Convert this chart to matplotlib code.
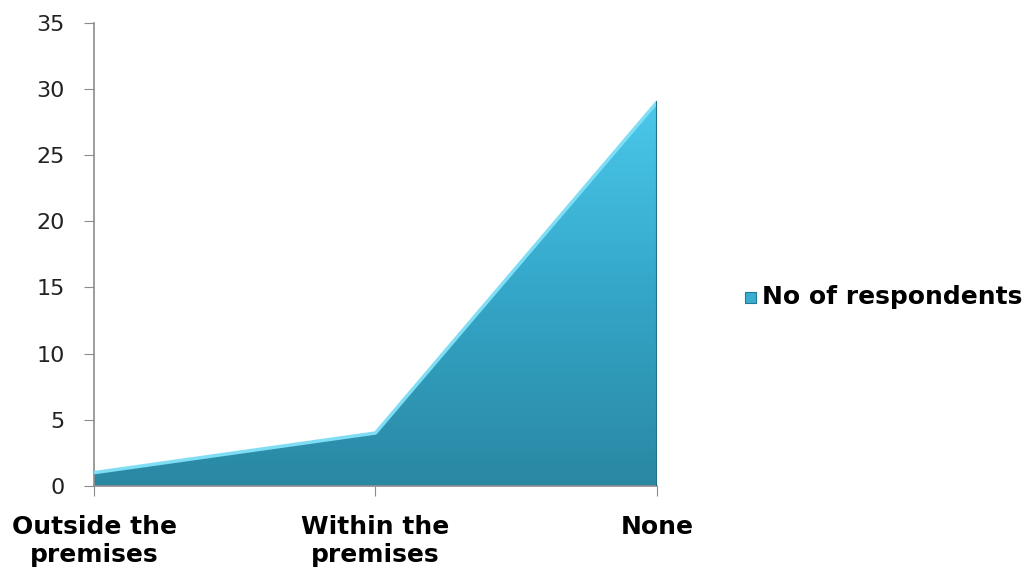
import numpy as np
import matplotlib
matplotlib.use('Agg')
import matplotlib.pyplot as plt
from matplotlib.patches import Polygon, Rectangle
from matplotlib.colors import LinearSegmentedColormap

# Data
categories = ['Outside the\npremises', 'Within the\npremises', 'None']
respondents = [1, 4, 29]
series_name = 'No of respondents'

fig = plt.figure(figsize=(10.33, 5.71), dpi=100)
ax = fig.add_axes([0.091, 0.149, 0.545, 0.811])

x = np.arange(len(categories))
ax.set_xlim(0, len(categories) - 1)
ax.set_ylim(0, 35)

# gradient-filled area
cmap = LinearSegmentedColormap.from_list('teal', ['#2a88a3', '#34a6c8', '#4ac8ea'])
grad = np.linspace(0, 1, 256).reshape(-1, 1)
img = ax.imshow(grad, extent=[0, len(categories) - 1, 0, max(respondents)],
                origin='lower', aspect='auto', cmap=cmap, zorder=2)
verts = [(x[0], 0)] + list(zip(x, respondents)) + [(x[-1], 0)]
poly = Polygon(verts, closed=True, facecolor='none', edgecolor='none')
ax.add_patch(poly)
img.set_clip_path(poly)
# light top edge and dark right edge
ax.plot(x, respondents, color='#80def4', lw=2.5, zorder=3, solid_capstyle='butt')
ax.plot([x[-1], x[-1]], [0, respondents[-1]], color='#1f6f86', lw=1.5, zorder=3)

ax.set_yticks(np.arange(0, 36, 5))
ax.set_xticks(x)
ax.set_xticklabels(categories, fontsize=18, fontweight='bold', family='DejaVu Sans',
                   linespacing=1.2)
ax.tick_params(axis='y', labelsize=16, length=7, color='#8c8c8c', pad=14)
ax.tick_params(axis='x', length=7, color='#8c8c8c', pad=14)
for lab in ax.get_yticklabels():
    lab.set_color('#222222')

for s in ['top', 'right']:
    ax.spines[s].set_visible(False)
for s in ['left', 'bottom']:
    ax.spines[s].set_color('#8c8c8c')
    ax.spines[s].set_linewidth(1.2)

# legend
fig.patches.append(Rectangle((0.721, 0.469), 0.011, 0.02, transform=fig.transFigure,
                             facecolor='#3aaed0', edgecolor='#1f7a94', lw=0.8))
fig.text(0.738, 0.479, series_name, fontsize=18, fontweight='bold',
         family='DejaVu Sans', va='center', ha='left')

fig.savefig('out.png', dpi=100)
